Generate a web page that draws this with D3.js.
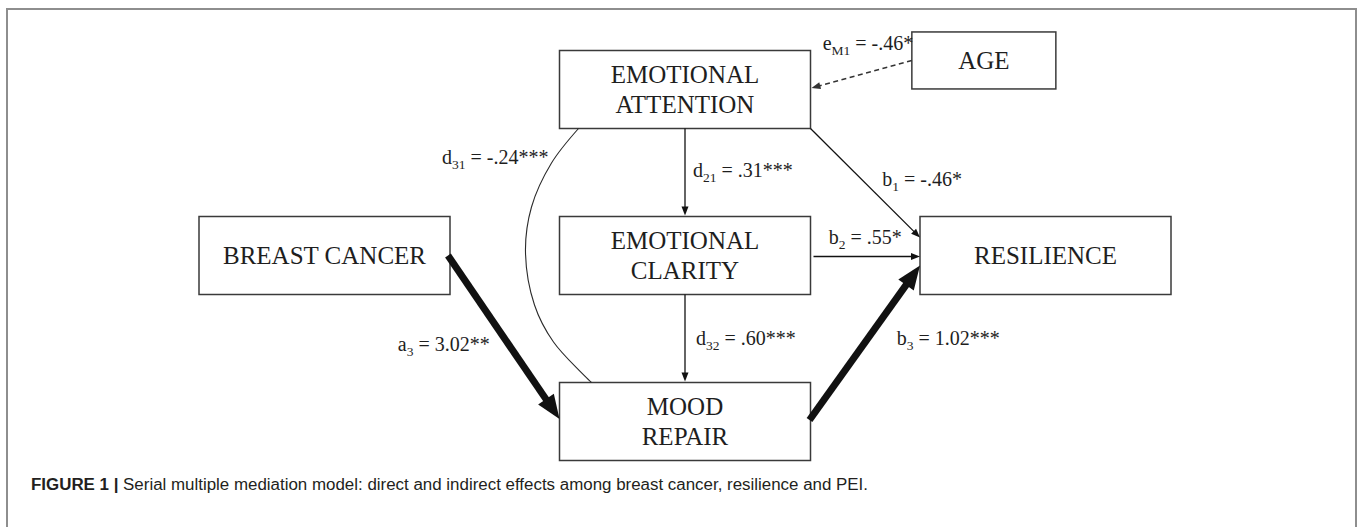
<!DOCTYPE html>
<html>
<head>
<meta charset="utf-8">
<script src="https://cdn.jsdelivr.net/npm/d3@7/dist/d3.min.js"></script>
<style>
  html, body { margin: 0; padding: 0; background: #fff; }
  svg { display: block; }
</style>
</head>
<body>
<svg id="chart" width="1357" height="527"></svg>
<script>
// ---------------- DATA ----------------
const nodeNames = ["BREAST CANCER", "EMOTIONAL ATTENTION", "EMOTIONAL CLARITY", "MOOD REPAIR", "RESILIENCE", "AGE"];
const nodeLines = [["BREAST CANCER"], ["EMOTIONAL", "ATTENTION"], ["EMOTIONAL", "CLARITY"], ["MOOD", "REPAIR"], ["RESILIENCE"], ["AGE"]];

const pathFrom = ["BREAST CANCER", "EMOTIONAL ATTENTION", "EMOTIONAL CLARITY", "EMOTIONAL ATTENTION", "EMOTIONAL CLARITY", "MOOD REPAIR", "EMOTIONAL ATTENTION", "AGE"];
const pathTo = ["MOOD REPAIR", "EMOTIONAL CLARITY", "MOOD REPAIR", "RESILIENCE", "RESILIENCE", "RESILIENCE", "MOOD REPAIR", "EMOTIONAL ATTENTION"];
const pathSymbols = ["a", "d", "d", "b", "b", "b", "d", "e"];
const pathSubscripts = ["3", "21", "32", "1", "2", "3", "31", "M1"];
const pathCoefficients = [3.02, 0.31, 0.60, -0.46, 0.55, 1.02, -0.24, -0.46];
const pathStars = ["**", "***", "***", "*", "*", "***", "***", "*"];

const captionBold = "FIGURE 1 | ";
const captionText = "Serial multiple mediation model: direct and indirect effects among breast cancer, resilience and PEI.";

// ---------------- LAYOUT ----------------
const svg = d3.select("#chart");

// grid position of each node (column, row)
const nodeGrid = {
  "BREAST CANCER": [0, 1],
  "EMOTIONAL ATTENTION": [1, 0],
  "EMOTIONAL CLARITY": [1, 1],
  "MOOD REPAIR": [1, 2],
  "RESILIENCE": [2, 1],
  "AGE": [1.829, -0.175]
};
const x = d3.scaleLinear().domain([0, 2]).range([324.5, 1045.5]);
const y = d3.scaleLinear().domain([0, 2]).range([89.5, 421.5]);
const boxSize = name => name === "AGE" ? [144, 57] : [251, 78];

const nodes = nodeNames.map((n, i) => {
  const [c, r] = nodeGrid[n];
  const [w, h] = boxSize(n);
  const cx = x(c), cy = y(r);
  return { name: n, lines: nodeLines[i], cx, cy, w, h,
           left: cx - w / 2, right: cx + w / 2, top: cy - h / 2, bottom: cy + h / 2 };
});
const N = Object.fromEntries(nodes.map(d => [d.name, d]));

// frame
svg.append("rect")
  .attr("x", 7).attr("y", 9).attr("width", 1349).attr("height", 640)
  .attr("fill", "none").attr("stroke", "#8e8e8e").attr("stroke-width", 2);

// boxes
const g = svg.append("g");
g.selectAll("rect.node").data(nodes).join("rect")
  .attr("class", "node")
  .attr("x", d => d.left).attr("y", d => d.top)
  .attr("width", d => d.w).attr("height", d => d.h)
  .attr("fill", "#fff").attr("stroke", "#3a3a3a").attr("stroke-width", 1.5);

g.selectAll("text.node").data(nodes).join("text")
  .attr("class", "node")
  .attr("font-family", "'Liberation Serif', 'Times New Roman', serif")
  .attr("font-size", 25)
  .attr("fill", "#1e1e1e")
  .attr("text-anchor", "middle")
  .each(function (d) {
    const t = d3.select(this);
    const lh = 30;
    const base = d.cy + 8.5 - (d.lines.length - 1) * lh / 2;
    d.lines.forEach((ln, k) => {
      t.append("tspan").attr("x", d.cx).attr("y", base + k * lh).text(ln);
    });
  });

// ---------------- EDGES ----------------
function edgeGeom(i) {
  const a = N[pathFrom[i]], b = N[pathTo[i]];
  switch (i) {
    case 0: return { p1: [a.right - 2, a.cy], p2: [b.left, b.cy - 2.5], thick: true };
    case 1: return { p1: [a.cx, a.bottom], p2: [b.cx, b.top - 1] };
    case 2: return { p1: [b.cx, a.bottom], p2: [b.cx, b.top - 1] };
    case 3: return { p1: [a.right, a.bottom], p2: [b.left, b.cy - 18] };
    case 4: return { p1: [a.right + 3, a.cy + 1], p2: [b.left, a.cy + 1] };
    case 5: return { p1: [a.right - 1, a.cy - 1.5], p2: [b.left, b.cy + 10], thick: true };
    case 6: return { curve: true };
    case 7: return { p1: [a.left, a.cy], p2: [b.right + 1, b.cy - 1.5], dashed: true };
  }
}

const lineCol = "#111";
function drawArrow(p1, p2, opt) {
  const dx = p2[0] - p1[0], dy = p2[1] - p1[1];
  const L = Math.hypot(dx, dy), ux = dx / L, uy = dy / L;
  const hl = opt.thick ? 24 : 9, hw = opt.thick ? 19 : 7;
  const sw = opt.thick ? 7 : (opt.dashed ? 1.4 : 1.3);
  const end = [p2[0] - ux * hl * 0.85, p2[1] - uy * hl * 0.85];
  svg.append("path")
    .attr("d", d3.line()([p1, end]))
    .attr("stroke", opt.dashed ? "#333" : lineCol)
    .attr("stroke-width", sw)
    .attr("stroke-dasharray", opt.dashed ? "5,3.5" : null)
    .attr("fill", "none");
  const bx = p2[0] - ux * hl, by = p2[1] - uy * hl;
  const px = -uy, py = ux;
  svg.append("path")
    .attr("d", d3.line()([p2, [bx + px * hw / 2, by + py * hw / 2], [bx - px * hw / 2, by - py * hw / 2]]) + "Z")
    .attr("fill", opt.dashed ? "#333" : lineCol);
}

const geoms = pathFrom.map((_, i) => edgeGeom(i));
geoms.forEach((gm, i) => {
  if (gm.curve) {
    const a = N[pathFrom[i]], m = N["EMOTIONAL CLARITY"], b = N[pathTo[i]];
    const pts = [
      [a.left + 19, a.bottom],
      [m.left - 8, 163],
      [m.left - 28, 207],
      [m.left - 34, m.cy - 3],
      [m.left - 25, 305],
      [m.left - 6, 342],
      [b.left + 32, b.top]
    ];
    gm.pts = pts;
    svg.append("path")
      .attr("d", d3.line().curve(d3.curveCatmullRom.alpha(0.5))(pts))
      .attr("fill", "none").attr("stroke", "#2a2a2a").attr("stroke-width", 1.1);
  } else {
    drawArrow(gm.p1, gm.p2, gm);
  }
});

// ---------------- PATH LABELS ----------------
const labelOffset = [
  { dx: -14, dy: 14, anchor: "end" },    // a3
  { dx: 8, dy: 5, anchor: "start" },     // d21
  { dx: 11, dy: 7, anchor: "start" },    // d32
  { dx: 17, dy: 3, anchor: "start" },    // b1
  { dx: -38, dy: -13, anchor: "start" }, // b2
  { dx: 32, dy: 2, anchor: "start" },    // b3
  { dx: -30, dy: 35, anchor: "end" },    // d31
  { dx: -39, dy: -24, anchor: "start" }  // eM1
];

const fmt = v => {
  const s = Math.abs(v) < 1 ? d3.format(".2f")(Math.abs(v)).replace(/^0/, "") : d3.format(".2f")(Math.abs(v));
  return (v < 0 ? "-" : "") + s;
};

pathFrom.forEach((_, i) => {
  const gm = geoms[i];
  const ref = gm.curve ? gm.pts[0] : [(gm.p1[0] + gm.p2[0]) / 2, (gm.p1[1] + gm.p2[1]) / 2];
  const o = labelOffset[i];
  const t = svg.append("text")
    .attr("x", ref[0] + o.dx).attr("y", ref[1] + o.dy)
    .attr("text-anchor", o.anchor)
    .attr("font-family", "'Liberation Serif', 'Times New Roman', serif")
    .attr("font-size", 20)
    .attr("fill", "#1e1e1e");
  t.append("tspan").text(pathSymbols[i]);
  t.append("tspan").attr("font-size", 13.5).attr("dy", 5).text(pathSubscripts[i]);
  t.append("tspan").attr("dy", -5).text(" = " + fmt(pathCoefficients[i]) + pathStars[i]);
});

// ---------------- CAPTION ----------------
const cap = svg.append("text")
  .attr("x", 31).attr("y", 490)
  .attr("font-family", "'Liberation Sans', Arial, sans-serif")
  .attr("font-size", 16)
  .attr("fill", "#231f20");
cap.append("tspan").attr("font-weight", "bold").text(captionBold);
cap.append("tspan").text(captionText);
cap.attr("textLength", 837).attr("lengthAdjust", "spacingAndGlyphs");
</script>
</body>
</html>
